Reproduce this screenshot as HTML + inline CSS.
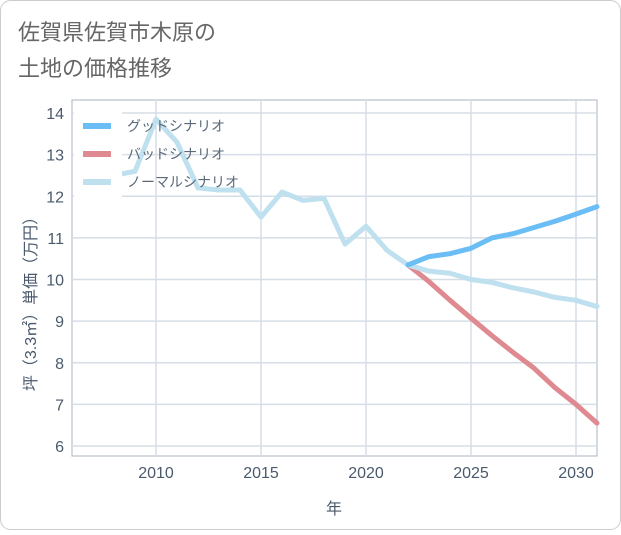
<!DOCTYPE html>
<html><head><meta charset="utf-8"><style>
body{margin:0;background:#fff;}
.wrap{position:relative;width:621px;height:530px;font-family:"Liberation Sans","Noto Sans CJK JP",sans-serif;}
</style></head><body>
<div class="wrap">
<svg id="c" width="621" height="530" xmlns="http://www.w3.org/2000/svg">
<rect x="0.5" y="0.5" width="620" height="529" rx="10" fill="#fff" stroke="#ccc"/>
<text x="18" y="40" font-size="22" fill="#666">佐賀県佐賀市木原の</text>
<text x="18" y="76" font-size="22" fill="#666">土地の価格推移</text>
<g id="grid"></g><g id="series"></g><g id="axes"></g><g id="legend"></g>
</svg></div>
<script>
const years=[2008,2009,2010,2011,2012,2013,2014,2015,2016,2017,2018,2019,2020,2021,2022];
const historyVals=[12.5,12.6,13.85,13.3,12.2,12.15,12.15,11.5,12.1,11.9,11.95,10.85,11.28,10.7,10.35];
const futureYears=[2022,2023,2024,2025,2026,2027,2028,2029,2030,2031];
const goodVals=[10.35,10.55,10.62,10.75,11.0,11.1,11.25,11.4,11.57,11.75];
const badVals=[10.35,9.95,9.5,9.07,8.65,8.25,7.87,7.4,7.0,6.55];
const normalVals=[10.35,10.2,10.15,10.0,9.93,9.8,9.7,9.57,9.5,9.35];
const xTicks=[2010,2015,2020,2025,2030];
const yTicks=[6,7,8,9,10,11,12,13,14];
const NS='http://www.w3.org/2000/svg';
const L=72,R=597,T=100,B=456;
const xs=v=>156+(v-2010)*21;
const ys=v=>113+(14-v)*41.625;
function mk(t,a,p){const e=document.createElementNS(NS,t);for(const k in a)e.setAttribute(k,a[k]);p.appendChild(e);return e;}
const grid=document.getElementById('grid'),axes=document.getElementById('axes'),ser=document.getElementById('series'),leg=document.getElementById('legend');
mk('rect',{x:L,y:T,width:R-L,height:B-T,fill:'none',stroke:'#aab4c0'},grid);
xTicks.forEach(t=>{const l=mk('line',{x1:xs(t),x2:xs(t),y1:T,y2:B,stroke:'#d5dde6','stroke-width':1.5},grid);

const tx=mk('text',{x:xs(t),y:478,'font-size':16,fill:'#4a5a6c','text-anchor':'middle'},axes);tx.textContent=t;
});
yTicks.forEach(t=>{const l=mk('line',{x1:L,x2:R,y1:ys(t),y2:ys(t),stroke:'#d5dde6','stroke-width':1.5},grid);

const tx=mk('text',{x:64,y:ys(t)+6,'font-size':16,fill:'#4a5a6c','text-anchor':'end'},axes);tx.textContent=t;
});
const xt=mk('text',{x:334,y:514,'font-size':16,fill:'#4a5a6c','text-anchor':'middle'},axes);xt.textContent='年';

const yt=mk('text',{x:0,y:0,'font-size':16,fill:'#4a5a6c','text-anchor':'middle',transform:'translate(36,300) rotate(-90)'},axes);yt.textContent='坪（3.3㎡）単価（万円）';

function line(xv,yv,col,name){const d=xv.map((x,i)=>(i?'L':'M')+xs(x)+','+ys(yv[i])).join('');
const p=mk('path',{d:d,fill:'none',stroke:col,'stroke-width':5,'stroke-linejoin':'round','stroke-linecap':'round'},ser);
}
line(years,historyVals,'#bfe0ee','history-line');
line(futureYears,badVals,'#de8a90','bad-scenario-line');
line(futureYears,normalVals,'#bfe0ee','normal-scenario-line');
line(futureYears,goodVals,'#6bbdf5','good-scenario-line');
mk('rect',{x:74,y:110,width:48,height:88,fill:'#fff'},leg);
[['グッドシナリオ','#6bbdf5'],['バッドシナリオ','#de8a90'],['ノーマルシナリオ','#bfe0ee']].forEach((e,i)=>{
const y=126+i*28;
const g=mk('g',{},leg);
mk('line',{x1:83,x2:111,y1:y,y2:y,stroke:e[1],'stroke-width':6},g);
const t=mk('text',{x:127,y:y+5,'font-size':14,fill:'#5a6878'},g);t.textContent=e[0];});
</script></body></html>
